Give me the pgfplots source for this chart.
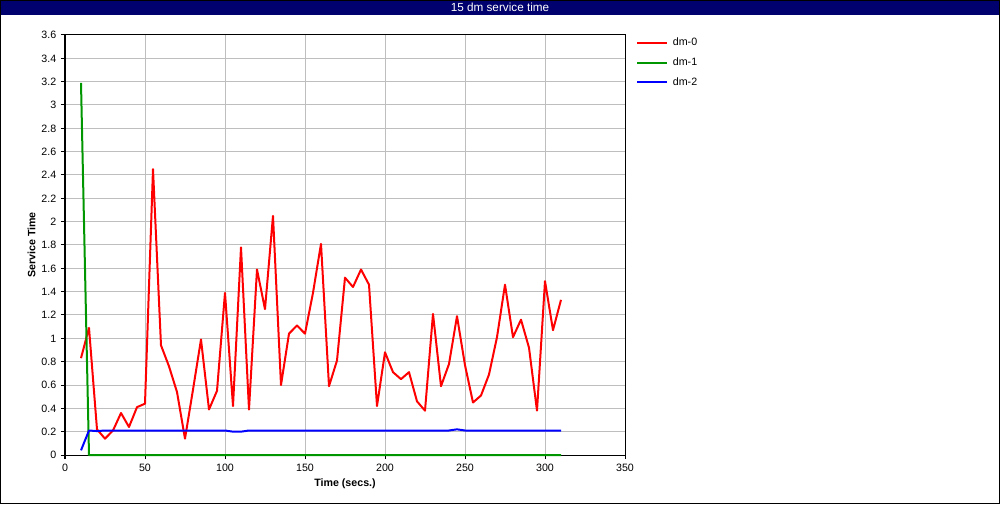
\documentclass[border=0pt]{standalone}
\usepackage{fontspec}
\setmainfont{Liberation Sans}
\usepackage{pgfplots}
\pgfplotsset{compat=1.18}
\definecolor{navybar}{RGB}{0,0,110}
\definecolor{dmred}{RGB}{255,0,0}
\definecolor{dmgreen}{RGB}{0,150,0}
\definecolor{dmblue}{RGB}{0,0,255}
\definecolor{gridgray}{RGB}{190,190,190}
\begin{document}
\begin{tikzpicture}
\useasboundingbox (0,0) rectangle (750pt,378pt);
\fill[navybar] (0,366.5pt) rectangle (750pt,378pt);
\node[text=white, font=\fontsize{8.8}{10}\selectfont] at (375pt,372.3pt) {15 dm service time};
\begin{axis}[
  at={(48.75pt,36.75pt)}, anchor=south west,
  scale only axis, width=420pt, height=315pt,
  xmin=0, xmax=350, ymin=0, ymax=3.6,
  xtick={0,50,...,350},
  ytick={0,0.2,...,3.6},
  yticklabel style={/pgf/number format/fixed, /pgf/number format/precision=1},
  /pgf/number format/assume math mode=true,
  tick label style={font=\fontsize{8}{9}\selectfont},
  tick align=outside, tick pos=left, major tick length=3pt,
  every tick/.style={black, line width=0.75pt},
  axis line style={black, line width=0.75pt},
  grid=major, major grid style={gridgray, line width=0.75pt},
  xlabel={\textbf{Time (secs.)}},
  ylabel={\textbf{Service Time}},
  label style={font=\fontsize{8}{9}\selectfont},
  xlabel style={at={(axis description cs:0.5,0)}, anchor=center, yshift=-21.5pt},
  ylabel style={at={(axis description cs:0,0.5)}, anchor=center, yshift=25pt},
  clip=false,
  legend style={at={(1.0196,1)}, anchor=north west, draw=none, fill=none,
    font=\fontsize{8}{9}\selectfont, row sep=3.5pt, inner sep=0pt,
    nodes={inner xsep=4pt}},
  legend cell align=left,
  legend image code/.code={\draw[#1] (0pt,0pt) -- (22pt,0pt);},
  every axis plot/.append style={line width=1.5pt, line join=round},
]
\addplot[dmred] coordinates {
(10,0.83)(15,1.09)(20,0.22)(25,0.14)(30,0.21)(35,0.36)(40,0.24)(45,0.41)(50,0.44)
(55,2.45)(60,0.94)(65,0.76)(70,0.54)(75,0.14)(80,0.56)(85,0.99)(90,0.39)(95,0.55)
(100,1.39)(105,0.42)(110,1.78)(115,0.39)(120,1.59)(125,1.25)(130,2.05)(135,0.60)
(140,1.04)(145,1.11)(150,1.04)(155,1.39)(160,1.81)(165,0.59)(170,0.81)(175,1.52)
(180,1.44)(185,1.59)(190,1.46)(195,0.42)(200,0.88)(205,0.71)(210,0.65)(215,0.71)
(220,0.46)(225,0.38)(230,1.21)(235,0.59)(240,0.78)(245,1.19)(250,0.77)(255,0.45)
(260,0.51)(265,0.69)(270,1.01)(275,1.46)(280,1.01)(285,1.16)(290,0.92)(295,0.38)
(300,1.49)(305,1.07)(310,1.33)
};
\addlegendentry{dm-0}
\addplot[dmgreen] coordinates {
(10,3.19)(15,0)(20,0)(50,0)(100,0)(150,0)(200,0)(250,0)(300,0)(310,0)
};
\addlegendentry{dm-1}
\addplot[dmblue] coordinates {
(10,0.04)(15,0.21)(20,0.205)(25,0.21)(30,0.21)(50,0.21)(100,0.21)(105,0.20)(110,0.20)
(115,0.21)(150,0.21)(200,0.21)(240,0.21)(245,0.22)(250,0.21)(300,0.21)(310,0.21)
};
\addlegendentry{dm-2}
\end{axis}
\draw[black, line width=0.75pt] (0.375pt,0.375pt) rectangle (749.625pt,377.625pt);
\end{tikzpicture}
\end{document}
